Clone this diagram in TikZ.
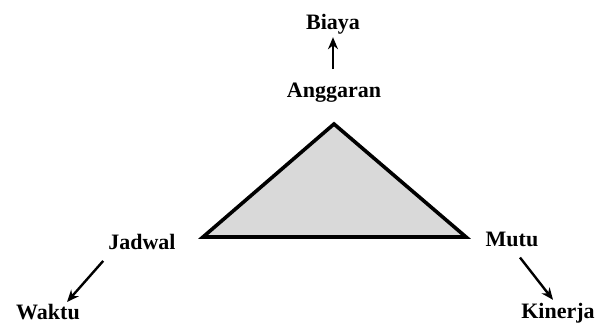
\documentclass[tikz,border=0pt]{standalone}
\usepackage{fontspec}
\setmainfont{Liberation Serif}
\usetikzlibrary{arrows.meta, positioning, calc}

\begin{document}
\begin{tikzpicture}[x=1pt, y=-1pt,
    lbl/.style={font=\fontsize{22}{26}\selectfont\bfseries, inner sep=0pt},
    arr/.style={-{Stealth[length=12pt, width=10pt]}, line width=2.4pt}]
    \useasboundingbox (0,0) rectangle (597,323);

    % Triangle
    \coordinate (top) at (334,124);
    \coordinate (left) at (203,237);
    \coordinate (right) at (466,237);
    \draw[line width=3.6pt, fill=black!15] (top) -- (left) -- (right) -- cycle;

    % Labels
    \node[lbl] (ang) at (334,93) {Anggaran};
    \node[lbl] (bia) at (333,24) {Biaya};
    \node[lbl] (jad) at (142,242) {Jadwal};
    \node[lbl] (wak) at (48,312) {Waktu};
    \node[lbl] (mut) at (512,239) {Mutu};
    \node[lbl] (kin) at (558,313) {Kinerja};

    % Arrows
    \draw[arr] ([shift={(-1,-14)}]ang.north) -- ([shift={(0,3)}]bia.south);
    \draw[arr] ([shift={(-5,11)}]jad.south west) -- ([shift={(-13,-2)}]wak.north east);
    \draw[arr] ([shift={(8,11)}]mut.south) -- ([shift={(-5,-3)}]kin.north);
\end{tikzpicture}
\end{document}
